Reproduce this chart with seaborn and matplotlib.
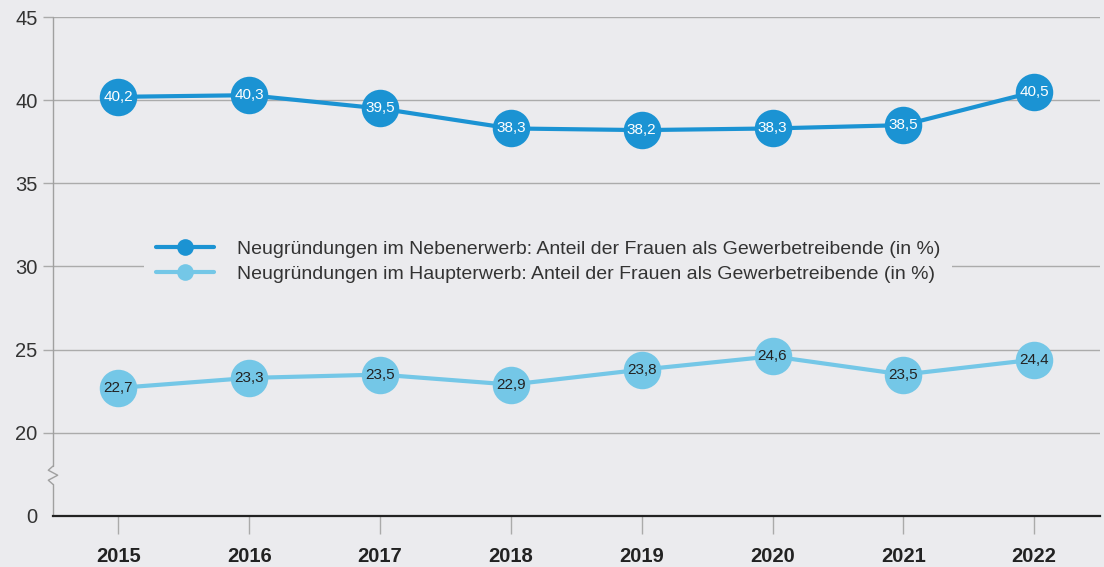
import numpy as np
import pandas as pd
import matplotlib
matplotlib.use("Agg")
import matplotlib.pyplot as plt
import seaborn as sns
from matplotlib.lines import Line2D

years = [2015, 2016, 2017, 2018, 2019, 2020, 2021, 2022]
neben = [40.2, 40.3, 39.5, 38.3, 38.2, 38.3, 38.5, 40.5]
haupt = [22.7, 23.3, 23.5, 22.9, 23.8, 24.6, 23.5, 24.4]
series_names = [
    "Neugründungen im Nebenerwerb: Anteil der Frauen als Gewerbetreibende (in %)",
    "Neugründungen im Haupterwerb: Anteil der Frauen als Gewerbetreibende (in %)",
]
ytick_vals = [15, 20, 25, 30, 35, 40, 45]
ytick_labels = ["0", "20", "25", "30", "35", "40", "45"]

bg = "#EBEBEE"
dark = "#1B93D3"
light = "#74C7E7"

sns.set_style("white")
plt.rcParams["font.family"] = ["Liberation Sans", "DejaVu Sans"]

df = pd.DataFrame({
    "Jahr": years * 2,
    "Wert": neben + haupt,
    "Reihe": [series_names[0]] * len(years) + [series_names[1]] * len(years),
})

fig = plt.figure(figsize=(11.04, 5.67), dpi=100, facecolor=bg)
ax = fig.add_axes([0.048, 0.09, 0.948, 0.88])
ax.set_facecolor(bg)

sns.lineplot(data=df, x="Jahr", y="Wert", hue="Reihe",
             palette=[dark, light], linewidth=3, marker="o",
             markersize=27, markeredgewidth=0, legend=False, ax=ax, zorder=3)

for x, y in zip(years, neben):
    ax.text(x, y, f"{y:.1f}".replace(".", ","), ha="center", va="center",
            color="white", fontsize=11, zorder=5)
for x, y in zip(years, haupt):
    ax.text(x, y, f"{y:.1f}".replace(".", ","), ha="center", va="center",
            color="#222222", fontsize=11, zorder=5)

ax.set_xlim(2014.5, 2022.5)
ax.set_ylim(15, 45)
ax.set_xticks(years)
ax.set_xticklabels([str(y) for y in years], fontsize=14.5, fontweight="bold",
                   color="#222222")
ax.set_yticks(ytick_vals)
ax.set_yticklabels(ytick_labels, fontsize=14.5, color="#333333")
ax.set_xlabel("")
ax.set_ylabel("")
ax.tick_params(axis="x", bottom=True, direction="out", length=13, width=1,
               color="#AAAAAA", pad=9)
ax.tick_params(axis="y", left=True, direction="out", length=7, width=1,
               color="#AAAAAA", pad=4)
ax.yaxis.get_major_ticks()[0].tick1line.set_visible(False)

for v in ytick_vals[1:]:
    ax.axhline(v, color="#ABABAB", linewidth=1, zorder=1)

for s in ["top", "right", "left"]:
    ax.spines[s].set_visible(False)
ax.spines["bottom"].set_color("#222222")
ax.spines["bottom"].set_linewidth(1.6)
ax.spines["bottom"].set_zorder(4)

# left axis with break mark
tr = ax.get_yaxis_transform()
dx = 0.0045
ax.plot([0, 0], [45, 18.0], color="#A0A0A0", lw=1, transform=tr, clip_on=False, zorder=2)
ax.plot([0, -dx, dx, -dx, 0], [18.0, 17.75, 17.45, 17.15, 16.9],
        color="#A0A0A0", lw=1, transform=tr, clip_on=False, zorder=2)
ax.plot([0, 0], [16.9, 15], color="#A0A0A0", lw=1, transform=tr, clip_on=False, zorder=2)

handles = [
    Line2D([], [], color=dark, lw=3, marker="o", markersize=12, markeredgewidth=0),
    Line2D([], [], color=light, lw=3, marker="o", markersize=12, markeredgewidth=0),
]
leg = ax.legend(handles, series_names, loc="center left",
                bbox_to_anchor=(0.087, 0.51), frameon=True, facecolor=bg,
                edgecolor="none", framealpha=1, fontsize=14, handlelength=3.0,
                handletextpad=1.2, labelspacing=0.35, borderpad=0.6,
                borderaxespad=0)
for t in leg.get_texts():
    t.set_color("#333333")
leg.set_zorder(2)

fig.savefig("out.png", dpi=100, facecolor=bg)
